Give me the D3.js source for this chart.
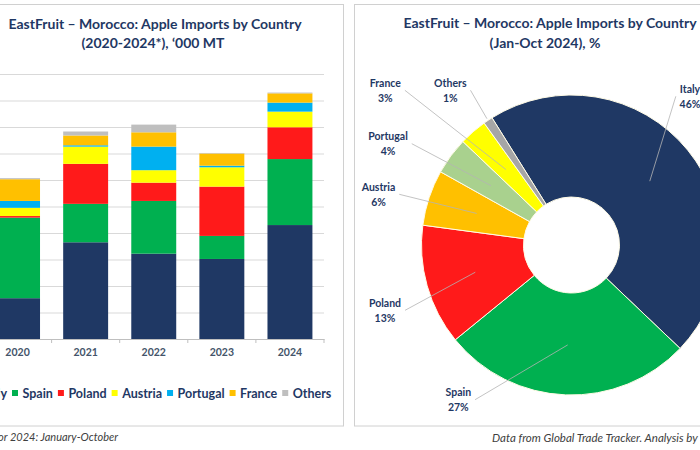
<!DOCTYPE html>
<html><head><meta charset="utf-8">
<script src="https://cdn.jsdelivr.net/npm/d3@7"></script>
<style>body{margin:0;background:#fff} svg{display:block;font-family:Lato,'Open Sans',sans-serif}</style>
</head><body><svg id="c" width="700" height="450"></svg>
<script>
// ---- data ----
const years = ["2020", "2021", "2022", "2023", "2024"];
const countries = ["Italy", "Spain", "Poland", "Austria", "Portugal", "France", "Others"];
const italy    = [15.4, 36.5, 32.2, 30.2, 43.0];
const spain    = [30.4, 14.5, 19.9, 8.7, 24.9];
const poland   = [0.6, 15.1, 6.9, 18.6, 12.0];
const austria  = [3.1, 6.5, 4.7, 7.3, 5.9];
const portugal = [2.6, 0.5, 8.9, 0.6, 3.4];
const france   = [8.2, 3.7, 5.4, 4.6, 3.5];
const others   = [0.4, 1.5, 2.9, 0.2, 0.3];
const yTicks = [0, 10, 20, 30, 40, 50, 60, 70, 80, 90, 100];
const pieCountries = ["Italy", "Spain", "Poland", "Austria", "Portugal", "France", "Others"];
const pieShares = [46, 27, 13, 6, 4, 3, 1];

// ---- styles / layout ----
const barColors = {Italy:"#1f3864", Spain:"#00b050", Poland:"#ff1a1a", Austria:"#ffff00", Portugal:"#00b0f0", France:"#ffc000", Others:"#bfbfbf"};
const pieColors = {Italy:"#1f3864", Spain:"#00b050", Poland:"#ff1a1a", Austria:"#ffc000", Portugal:"#a9d18e", France:"#ffff00", Others:"#a6a6a6"};
const navy = "#1f3864";
// label offsets relative to the pie centre [dx, dy], plus leader target radius
const labelLayout = {
  Italy:[118.5,-155.7,101], Spain:[-113.2,147.7,100], Poland:[-186.5,58.3,100],
  Austria:[-193,-57.7,100], Portugal:[-183.5,-108.3,100], France:[-186.2,-161.7,100], Others:[-121.2,-161.7,152]
};

const svg = d3.select("#c");
svg.append("rect").attr("width",700).attr("height",450).attr("fill","#fff");

// panels
svg.append("rect").attr("x",-10).attr("y",4.5).attr("width",353.5).attr("height",421.5)
  .attr("fill","#fff").attr("stroke","#d0d0d0");
svg.append("rect").attr("x",354.5).attr("y",4.5).attr("width",360).attr("height",421.5)
  .attr("fill","#fff").attr("stroke","#d0d0d0");

// ---- left: stacked bars ----
const rows = years.map((y,i)=>({year:y, Italy:italy[i], Spain:spain[i], Poland:poland[i], Austria:austria[i], Portugal:portugal[i], France:france[i], Others:others[i]}));
const x = d3.scaleBand().domain(years).range([-16.5, 324]).paddingInner(0.34).paddingOuter(0.17);
const y = d3.scaleLinear().domain([0,100]).range([339, 74]);

const gl = svg.append("g");
// gridlines (value labels lie outside the cropped view)
gl.append("g").attr("transform","translate(-16.5,0)")
  .call(d3.axisLeft(y).tickValues(yTicks).tickSize(-340.5).tickFormat(""))
  .call(g=>g.select(".domain").remove())
  .call(g=>g.selectAll(".tick line").attr("stroke","#d9d9d9"));

const stack = d3.stack().keys(countries)(rows);
gl.append("g").selectAll("g").data(stack).join("g").attr("fill",d=>barColors[d.key])
  .selectAll("rect").data(d=>d).join("rect")
  .attr("x",d=>x(d.data.year)).attr("width",x.bandwidth())
  .attr("y",d=>y(d[1])).attr("height",d=>Math.max(0,y(d[0])-y(d[1])));

// x axis
const xa = gl.append("g").attr("transform","translate(0,339)")
  .call(d3.axisBottom(x).tickSize(0).tickPadding(10));
xa.select(".domain").attr("stroke","#bfbfbf");
xa.selectAll(".tick text").attr("font-size","10.5px").attr("font-weight","bold").attr("fill","#44546a").attr("font-family","Lato");
// category separators
const step = x.step();
gl.append("g").selectAll("line").data(d3.range(years.length+1)).join("line")
  .attr("x1",i=>-16.5+i*step).attr("x2",i=>-16.5+i*step).attr("y1",339).attr("y2",343)
  .attr("stroke","#bfbfbf");

// left title
const lt = gl.append("text").attr("text-anchor","middle").attr("fill",navy)
  .attr("font-weight","bold").attr("font-size","14px");
lt.append("tspan").attr("x",155).attr("y",29).text("EastFruit –  Morocco: Apple Imports by Country");
lt.append("tspan").attr("x",153).attr("y",48).text("(2020-2024*), ‘000 MT");

// legend
const lg = gl.append("g").attr("font-size","12.5px").attr("font-weight","bold").attr("fill",navy);
const tmp = lg.append("text").text(countries[0]);
const wItaly = tmp.node().getComputedTextLength(); tmp.remove();
let cx = 12 - (6 + 4.5 + wItaly + 5);
countries.forEach(c=>{
  lg.append("rect").attr("x",cx).attr("y",390).attr("width",6).attr("height",6).attr("fill",barColors[c]);
  const t = lg.append("text").attr("x",cx+10.5).attr("y",397.5).text(c);
  cx += 10.5 + t.node().getComputedTextLength() + 5;
});

// left footnote
svg.append("text").attr("x",118).attr("y",441).attr("text-anchor","end")
  .attr("font-style","italic").attr("font-size","11px").attr("fill","#404040")
  .text("*Data for 2024: January-October");

// ---- right: donut ----
const pc = [571.5, 245];
const gp = svg.append("g").attr("transform",`translate(${pc[0]},${pc[1]})`);
const a0 = -32*Math.PI/180;
const pie = d3.pie().sort(null).startAngle(a0).endAngle(a0+2*Math.PI);
const arcs = pie(pieShares);
const arc = d3.arc().innerRadius(48).outerRadius(150);
gp.selectAll("path").data(arcs).join("path").attr("d",arc)
  .attr("fill",(d,i)=>pieColors[pieCountries[i]]).attr("stroke","#fffbe6").attr("stroke-width",1);

// labels + leaders
arcs.forEach((d,i)=>{
  const name = pieCountries[i];
  const [dx,dy,r] = labelLayout[name];
  const t = gp.append("text").attr("text-anchor","middle").attr("fill",navy)
    .attr("font-weight","bold").attr("font-size","10.5px");
  t.append("tspan").attr("x",dx).attr("y",dy+3.5).text(name);
  t.append("tspan").attr("x",dx).attr("y",dy+18.5).text(pieShares[i]+"%");
  const w = t.select("tspan").node().getComputedTextLength();
  const sx = dx < 0 ? dx + w/2 + 4 : dx - w/2 - 4;
  const sy = dy + 7;
  const c = d3.arc().innerRadius(r).outerRadius(r).centroid(d);
  gp.append("line").attr("x1",sx).attr("y1",sy).attr("x2",c[0]).attr("y2",c[1])
    .attr("stroke","#b4b4b4").attr("stroke-width",0.8);
});

// right title
const rt = svg.append("text").attr("text-anchor","middle").attr("fill",navy)
  .attr("font-weight","bold").attr("font-size","14px");
rt.append("tspan").attr("x",550).attr("y",28).text("EastFruit – Morocco: Apple Imports by Country");
rt.append("tspan").attr("x",545).attr("y",48).text("(Jan-Oct 2024), %");

// right footnote
svg.append("text").attr("x",492).attr("y",442)
  .attr("font-style","italic").attr("font-size","11.5px").attr("fill","#404040")
  .text("Data from Global Trade Tracker. Analysis by EastFruit");
</script></body></html>
